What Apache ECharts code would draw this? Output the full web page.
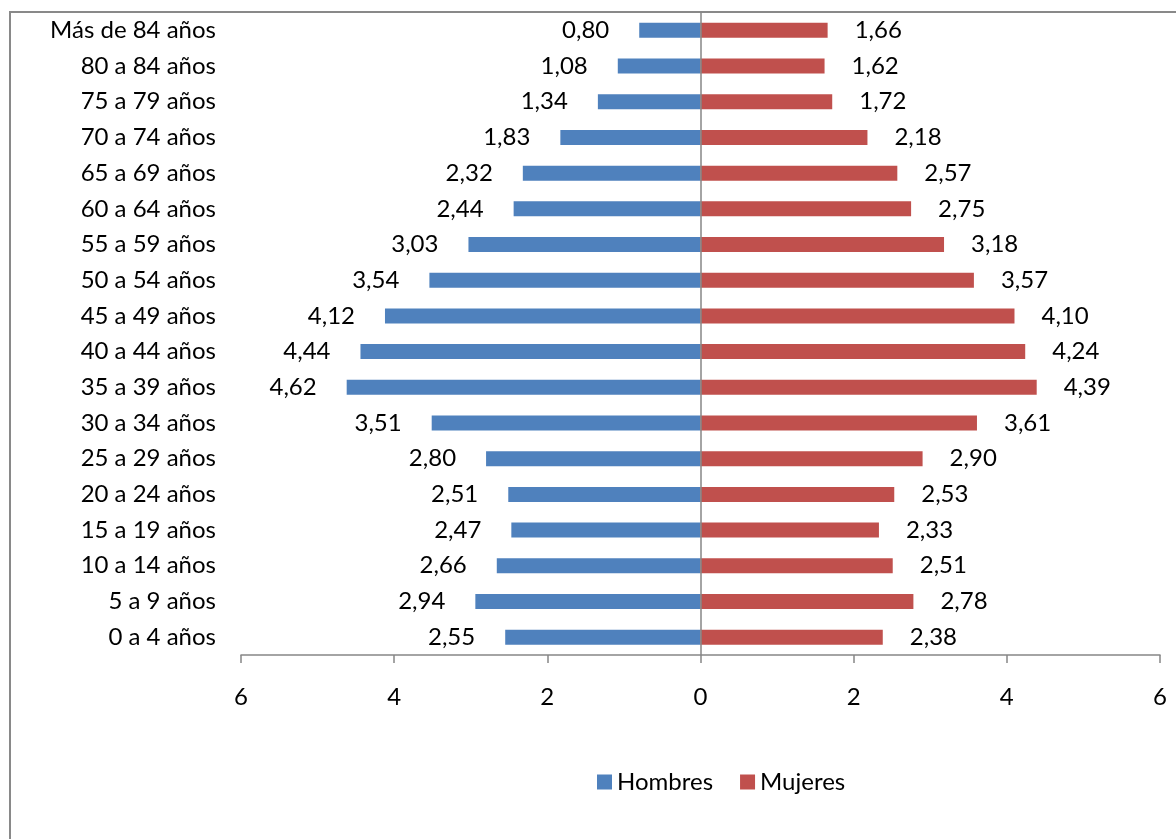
<!DOCTYPE html>
<html><head><meta charset="utf-8">
<script src="https://cdn.jsdelivr.net/npm/echarts@6/dist/echarts.min.js"></script>
<style>html,body{margin:0;padding:0;background:#fff}#c{width:1176px;height:839px}</style>
</head><body><div id="c"></div>
<script>
const categories = ['0 a 4 años','5 a 9 años','10 a 14 años','15 a 19 años','20 a 24 años','25 a 29 años','30 a 34 años','35 a 39 años','40 a 44 años','45 a 49 años','50 a 54 años','55 a 59 años','60 a 64 años','65 a 69 años','70 a 74 años','75 a 79 años','80 a 84 años','Más de 84 años'];
const hombres = [2.55,2.94,2.66,2.47,2.51,2.80,3.51,4.62,4.44,4.12,3.54,3.03,2.44,2.32,1.83,1.34,1.08,0.80];
const mujeres = [2.38,2.78,2.51,2.33,2.53,2.90,3.61,4.39,4.24,4.10,3.57,3.18,2.75,2.57,2.18,1.72,1.62,1.66];
const xTicks = [-6,-4,-2,0,2,4,6];

const FONT = 'Lato';
const FS = 24;
const fmt = v => Math.abs(v).toFixed(2).replace('.', ',');
const chart = echarts.init(document.getElementById('c'));
chart.setOption({
  animation: false,
  textStyle: {fontFamily: FONT},
  graphic: [{type:'rect', shape:{x:10,y:12,width:1300,height:1000}, style:{fill:'none', stroke:'#898989', lineWidth:2}, silent:true}],
  grid: {left:241, right:16, top:12.5, bottom:184, containLabel:false},
  legend: {
    data:['Hombres','Mujeres'], bottom: 40, left: 592, itemWidth:15, itemHeight:15, itemGap:27,
    icon:'rect', textStyle:{fontFamily:FONT, fontSize:FS, color:'#000'}
  },
  xAxis: {
    type:'value', min:xTicks[0], max:xTicks[xTicks.length-1], interval:2,
    axisLine:{show:true, onZero:false, lineStyle:{color:'#868686', width:1.5}},
    axisTick:{show:true, length:8, lineStyle:{color:'#868686', width:1.5}},
    splitLine:{show:false},
    axisLabel:{margin:30, fontSize:FS, color:'#000', fontFamily:FONT, formatter: v => String(Math.abs(v))}
  },
  yAxis: {
    type:'category', data: categories,
    axisLine:{show:false, onZero:false}, axisTick:{show:false},
    axisLabel:{margin:25, fontSize:FS, color:'#000', fontFamily:FONT}
  },
  series: [
    {
      name:'Hombres', type:'bar', data: hombres.map(v => -v), barWidth:15, barGap:'-100%',
      itemStyle:{color:'#4F81BD'},
      label:{show:true, position:'left', distance:30, fontSize:FS, color:'#000', fontFamily:FONT, formatter: p => fmt(p.value)},
      markLine:{silent:true, symbol:'none', label:{show:false}, lineStyle:{color:'#868686', width:1.5, type:'solid'}, data:[{xAxis:0}]}
    },
    {
      name:'Mujeres', type:'bar', data: mujeres, barWidth:15,
      itemStyle:{color:'#C0504D'},
      label:{show:true, position:'right', distance:27, fontSize:FS, color:'#000', fontFamily:FONT, formatter: p => fmt(p.value)}
    }
  ]
});
</script></body></html>
